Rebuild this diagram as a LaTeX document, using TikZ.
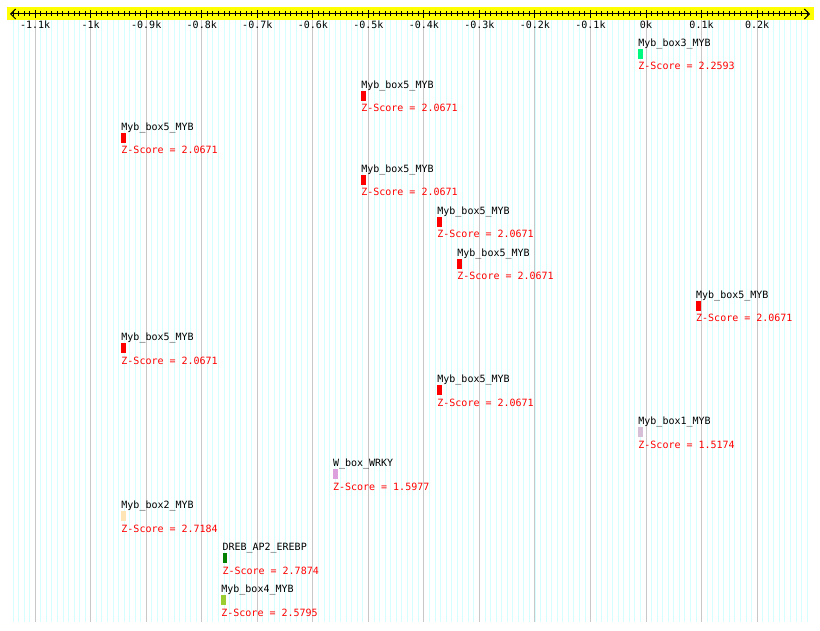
\documentclass[tikz,border=0pt]{standalone}
\usepackage{fontspec}
\setmonofont{DejaVu Sans Mono}
\usetikzlibrary{arrows.meta}

\definecolor{bandyellow}{RGB}{255,255,0}
\definecolor{minorgrid}{RGB}{214,255,255}
\definecolor{majorgrid}{RGB}{200,200,200}
\definecolor{scorered}{RGB}{255,0,0}
\definecolor{mybthree}{RGB}{0,250,128}
\definecolor{mybfive}{RGB}{255,0,0}
\definecolor{mybone}{RGB}{216,191,216}
\definecolor{wrky}{RGB}{221,160,221}
\definecolor{mybtwo}{RGB}{255,228,181}
\definecolor{dreb}{RGB}{0,128,0}
\definecolor{mybfour}{RGB}{154,205,50}

% position (bp) -> picture x
\newcommand{\bpx}[1]{646+0.5553*(#1)}

\tikzset{
    pixfont/.style={font=\ttfamily\fontsize{10}{12}\selectfont, inner sep=0pt},
    sitename/.style={pixfont, anchor=base west},
    zscore/.style={pixfont, anchor=base west, text=scorered},
    sitebox/.style={inner sep=0pt, minimum width=4.5pt, minimum height=10pt, anchor=north west}
}

\begin{document}
\begin{tikzpicture}[x=1pt,y=-1pt]

% Canvas
\fill[white] (0,0) rectangle (820,631);
\useasboundingbox (0,0) rectangle (820,631);

% Grid
\foreach \v in {-1140,-1130,...,290}
    \draw[minorgrid, line width=0.8pt] ({\bpx{\v}},20) -- ({\bpx{\v}},622);
\foreach \v in {-1100,-1000,...,200}
    \draw[majorgrid, line width=0.9pt] ({\bpx{\v}},20) -- ({\bpx{\v}},622);

% Axis
\fill[bandyellow] (7,7) rectangle (814,20);
\coordinate (axisL) at (10,14);
\coordinate (axisR) at (810,14);
\draw[line width=1pt, {Straight Barb[length=5pt,width=10pt]}-{Straight Barb[length=5pt,width=10pt]}] (axisL) -- (axisR);

% Ticks
\foreach \v in {-1140,-1130,...,290}
    \draw[line width=0.9pt] ({\bpx{\v}},11.5) -- ({\bpx{\v}},16.5);
\foreach \v/\t in {-1100/-1.1k, -1000/-1k, -900/-0.9k, -800/-0.8k, -700/-0.7k,
                   -600/-0.6k, -500/-0.5k, -400/-0.4k, -300/-0.3k, -200/-0.2k,
                   -100/-0.1k, 0/0k, 100/0.1k, 200/0.2k} {
    \draw[line width=1pt] ({\bpx{\v}},10) -- ({\bpx{\v}},18.5);
    \node[pixfont, anchor=base] (tick\v) at ({\bpx{\v}},29) {\t};
}

% Sites
\foreach \v/\r/\name/\col/\z in {
    -14/0/Myb\_box3\_MYB/mybthree/2.2593,
    -513/1/Myb\_box5\_MYB/mybfive/2.0671,
    -945/2/Myb\_box5\_MYB/mybfive/2.0671,
    -513/3/Myb\_box5\_MYB/mybfive/2.0671,
    -376/4/Myb\_box5\_MYB/mybfive/2.0671,
    -340/5/Myb\_box5\_MYB/mybfive/2.0671,
    90/6/Myb\_box5\_MYB/mybfive/2.0671,
    -945/7/Myb\_box5\_MYB/mybfive/2.0671,
    -376/8/Myb\_box5\_MYB/mybfive/2.0671,
    -14/9/Myb\_box1\_MYB/mybone/1.5174,
    -564/10/W\_box\_WRKY/wrky/1.5977,
    -945/11/Myb\_box2\_MYB/mybtwo/2.7184,
    -763/12/DREB\_AP2\_EREBP/dreb/2.7874,
    -765/13/Myb\_box4\_MYB/mybfour/2.5795} {
    \node[sitename] (name\r) at ({\bpx{\v}},{46.5+42*\r}) {\name};
    \node[sitebox, fill=\col] (box\r) at ({\bpx{\v}},{49+42*\r}) {};
    \node[zscore] (score\r) at ({\bpx{\v}},{70+42*\r}) {Z-Score = \z};
}

\end{tikzpicture}
\end{document}
